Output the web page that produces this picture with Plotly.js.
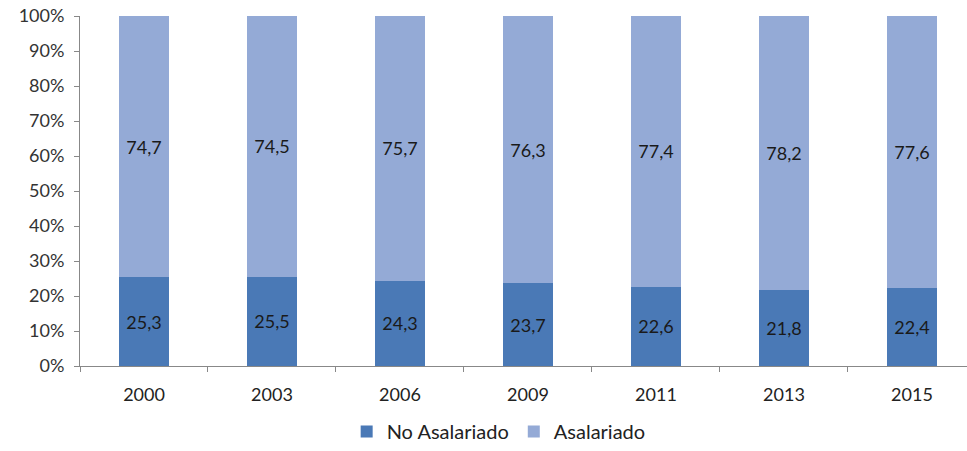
<!DOCTYPE html>
<html>
<head>
<meta charset="utf-8">
<script src="https://cdn.plot.ly/plotly-3.0.1.min.js"></script>
<style>html,body{margin:0;padding:0;background:#fff;}#chart{width:967px;height:451px;}</style>
</head>
<body>
<div id="chart"></div>
<script>
const years = ["2000", "2003", "2006", "2009", "2011", "2013", "2015"];
const noAsalariado = [25.3, 25.5, 24.3, 23.7, 22.6, 21.8, 22.4];
const asalariado = [74.7, 74.5, 75.7, 76.3, 77.4, 78.2, 77.6];
const seriesNames = ["No Asalariado", "Asalariado"];

const fmt = v => v.toFixed(1).replace('.', ',');
const font = "Lato, 'Open Sans', sans-serif";

const traces = [
  {
    type: 'bar', name: seriesNames[0], x: years, y: noAsalariado,
    text: noAsalariado.map(fmt), textposition: 'inside', insidetextanchor: 'middle',
    textfont: {family: font, size: 18, color: '#1a1a1a'},
    marker: {color: '#4a79b6'}, hoverinfo: 'none'
  },
  {
    type: 'bar', name: seriesNames[1], x: years, y: asalariado,
    text: asalariado.map(fmt), textposition: 'inside', insidetextanchor: 'middle',
    textfont: {family: font, size: 18, color: '#1a1a1a'},
    marker: {color: '#94aad6'}, hoverinfo: 'none'
  }
];

const layout = {
  width: 967, height: 451,
  margin: {l: 80, r: 0, t: 16, b: 85},
  barmode: 'stack', bargap: 0.61,
  paper_bgcolor: '#fff', plot_bgcolor: '#fff',
  font: {family: font, size: 18, color: '#404040'},
  xaxis: {
    type: 'category', range: [-0.5, 6.43], automargin: false,
    showline: true, linecolor: '#888', linewidth: 1,
    ticks: 'outside', tickson: 'boundaries', ticklen: 5, tickcolor: '#888',
    ticklabelstandoff: 12,
    showgrid: false, tickfont: {family: font, size: 18, color: '#222'}
  },
  yaxis: {
    range: [0, 100], dtick: 10, ticksuffix: '%', automargin: false,
    showline: true, linecolor: '#888', linewidth: 1,
    ticks: 'outside', ticklen: 5, tickcolor: '#888',
    ticklabelstandoff: 6,
    showgrid: false, zeroline: false,
    tickfont: {family: font, size: 18, color: '#333'}
  },
  showlegend: true,
  legend: {
    orientation: 'h', x: 0.472, xanchor: 'center',
    yref: 'container', y: 0.0, yanchor: 'bottom',
    font: {family: font, size: 20, color: '#222'}, traceorder: 'normal'
  }
};

Plotly.newPlot('chart', traces, layout, {displayModeBar: false, staticPlot: true});
</script>
</body>
</html>
